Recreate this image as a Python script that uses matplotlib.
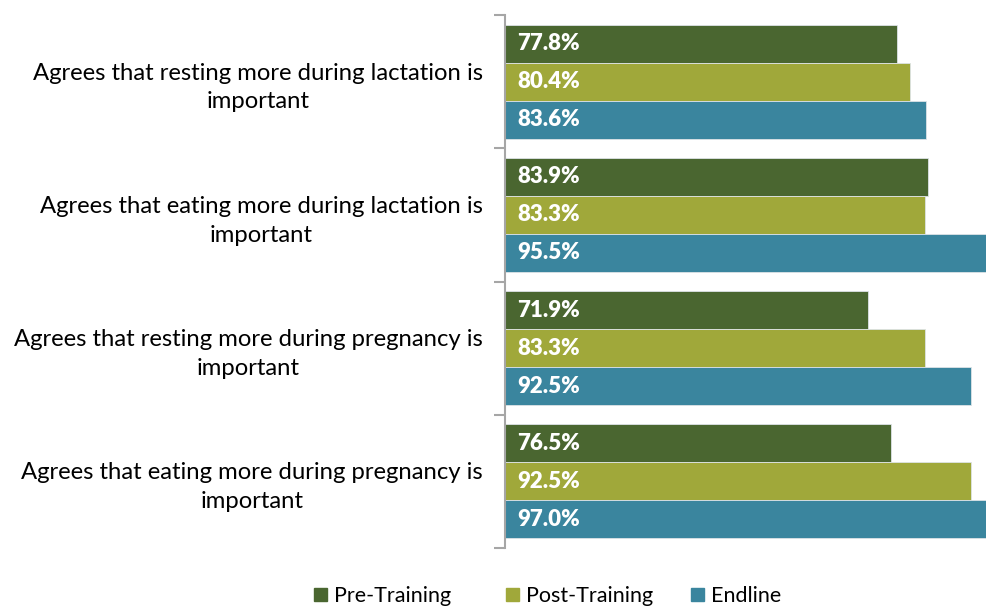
import numpy as np
import matplotlib.pyplot as plt
from matplotlib.patches import Patch

# data
categories = ['Agrees that resting more during lactation is\nimportant',
              'Agrees that eating more during lactation is\nimportant',
              'Agrees that resting more during pregnancy is\nimportant',
              'Agrees that eating more during pregnancy is\nimportant']
series = ['Pre-Training', 'Post-Training', 'Endline']
pre_training = [77.8, 83.9, 71.9, 76.5]
post_training = [80.4, 83.3, 83.3, 92.5]
endline = [83.6, 95.5, 92.5, 97.0]
colors = ['#4a6630', '#a0a83a', '#3a859e']

plt.rcParams['font.family'] = ['Lato', 'DejaVu Sans']

fig = plt.figure(figsize=(9.87, 6.07), dpi=100)
ax = fig.add_axes([505/987, 1-548/607, 1-505/987, (548-15)/607])

bh = 0.285
y = np.arange(len(categories))
for k, vals in enumerate([pre_training, post_training, endline]):
    pos = y + (k - 1) * bh
    ax.barh(pos, vals, height=bh, color=colors[k], edgecolor='#dde3e6', linewidth=0.6)
    for p, v in zip(pos, vals):
        ax.text(2.4, p, '%.1f%%' % v, color='white', fontsize=16, fontweight='heavy',
                va='center', ha='left')

ax.set_xlim(0, 95.6)
ax.set_ylim(len(categories) - 0.5, -0.5)
ax.set_yticks(y)
ax.set_yticklabels(categories, fontsize=17.2, multialignment='center', linespacing=1.45)
ax.set_yticks(np.arange(-0.5, len(categories)), minor=True)
ax.tick_params(axis='y', which='major', length=0, pad=16)
ax.tick_params(axis='y', which='minor', length=8, color='#a6a6a6', width=1.5)
ax.set_xticks([])
for s in ['top', 'right', 'bottom']:
    ax.spines[s].set_visible(False)
ax.spines['left'].set_color('#a6a6a6')
ax.spines['left'].set_linewidth(1.5)

# legend entries, one per series, laid out like the original
leg_x = [314/987, 506/987, 691/987]
for c, s, lx in zip(colors, series, leg_x):
    fig.legend(handles=[Patch(color=c, label=s)], loc='center left',
               bbox_to_anchor=(lx, 1-596/607), frameon=False, fontsize=15.5,
               handlelength=0.6, handleheight=0.6, handletextpad=0.35,
               borderpad=0, borderaxespad=0)

fig.savefig('out.png', dpi=100)
